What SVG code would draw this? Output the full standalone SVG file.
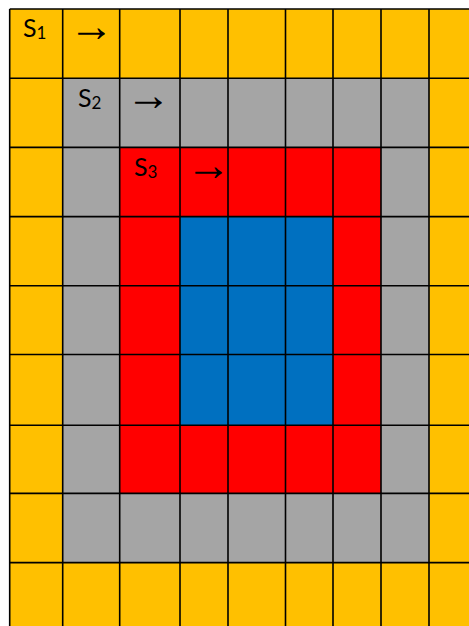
<svg xmlns="http://www.w3.org/2000/svg" width="469" height="626" viewBox="0 0 469 626">
  <style>
    .y { fill: #FFC000; }
    .g { fill: #A5A5A5; }
    .r { fill: #FF0000; }
    .b { fill: #0070C0; }
    .grid { stroke: #000000; stroke-width: 1.6; fill: none; }
    .s { font-family: Lato, "Open Sans", sans-serif; font-size: 25px; fill: #000000; }
    .sub { font-size: 17px; }
    .arr { font-family: "Liberation Serif", "DejaVu Serif", serif; font-size: 45px; fill: #000000; }
  </style>
  <rect width="469" height="626" fill="#FFFFFF"/>
  <g id="layers">
    <rect class="y" x="9.7" y="9" width="459.3" height="617"/>
    <rect class="g" x="62.7" y="78.2" width="366.3" height="484.4"/>
    <rect class="r" x="119.7" y="147.4" width="261.3" height="346"/>
    <rect class="b" x="180" y="216.6" width="153" height="208.6"/>
  </g>
  <g id="grid">
    <path class="grid" d="M9.7 9V626 M62.7 9V626 M119.7 9V626 M180 9V626 M228 9V626 M285.5 9V626 M333 9V626 M381 9V626 M429 9V626 M9.7 9H469 M9.7 78.2H469 M9.7 147.4H469 M9.7 216.6H469 M9.7 285.8H469 M9.7 354.5H469 M9.7 425.2H469 M9.7 493.4H469 M9.7 562.6H469"/>
  </g>
  <g id="labels">
    <text class="s" x="23" y="37">S<tspan class="sub" dy="2">1</tspan></text>
    <text class="s" x="78" y="107">S<tspan class="sub" dy="2">2</tspan></text>
    <text class="s" x="134" y="176">S<tspan class="sub" dy="2">3</tspan></text>
    <text class="arr" x="69" y="40.5">→</text>
    <text class="arr" x="126" y="109.5">→</text>
    <text class="arr" x="186" y="179.5">→</text>
  </g>
</svg>
